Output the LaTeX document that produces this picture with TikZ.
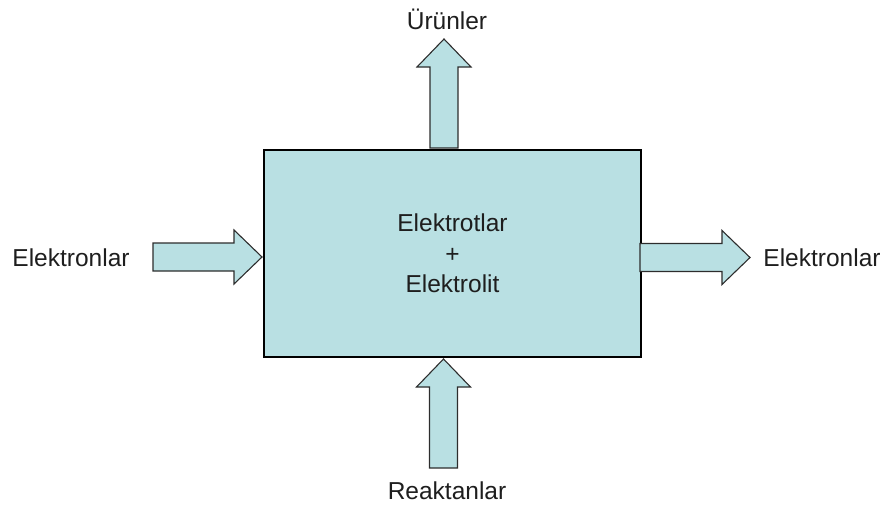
\documentclass[tikz,border=0pt]{standalone}
\usepackage{fontspec}
\setmainfont{Liberation Sans}
\definecolor{cellfill}{RGB}{185,224,227}
\definecolor{arrowline}{RGB}{45,45,45}
\definecolor{textgray}{RGB}{30,30,30}
% block arrow: start point, direction, length
\newcommand{\blockarrow}[3]{%
  \draw[arrowbox, shift={(#1)}, rotate=#2]
    (0,-14) -- (#3-28,-14) -- (#3-28,-27) -- (#3,0)
    -- (#3-28,27) -- (#3-28,14) -- (0,14) -- cycle;}
\begin{document}
\begin{tikzpicture}[x=1pt, y=-1pt,
    cellbox/.style={draw=black, line width=1.2pt, fill=cellfill,
      minimum width=377pt, minimum height=207pt, align=center},
    arrowbox/.style={draw=arrowline, line width=1.1pt, fill=cellfill,
      line join=miter},
    label/.style={inner sep=0pt, text=textgray,
      font=\fontsize{24.5}{30.5}\selectfont}]
  \useasboundingbox (0,0) rectangle (886,509);
  % Central cell
  \node[cellbox, label, inner sep=0pt] (cell) at (452.5,253.5)
    {Elektrotlar\\+\\Elektrolit};
  % Outer labels
  \node[label] (elecin)    at (71,258)  {Elektronlar};
  \node[label] (elecout)   at (822,258) {Elektronlar};
  \node[label] (products)  at (447,19)  {Ürünler};
  \node[label] (reactants) at (447,491) {Reaktanlar};
  % Block arrows
  \blockarrow{153,257}{0}{109}
  \blockarrow{640,257.5}{0}{110}
  \blockarrow{444,148}{90}{109}
  \blockarrow{443.5,468}{90}{109}
\end{tikzpicture}
\end{document}
